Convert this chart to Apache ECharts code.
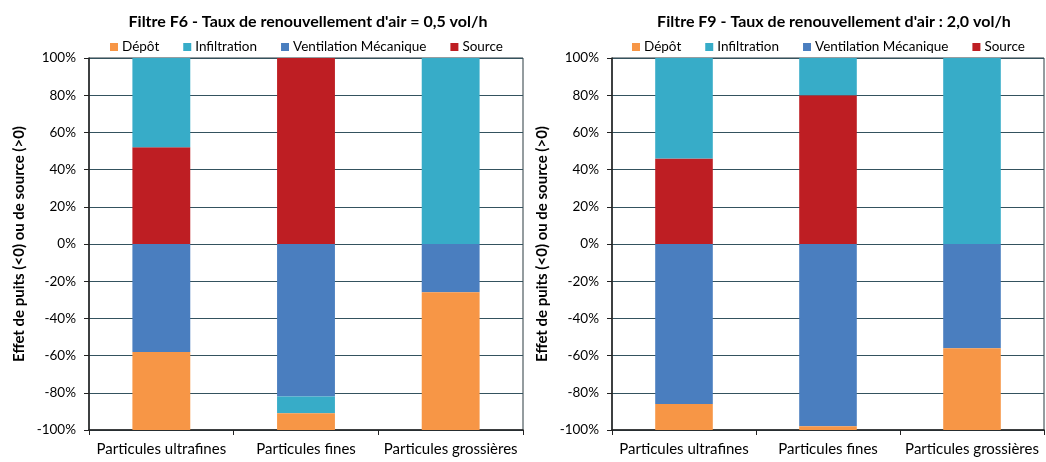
<!DOCTYPE html>
<html><head><meta charset="utf-8">
<script src="https://cdn.jsdelivr.net/npm/echarts@6/dist/echarts.min.js"></script>
<style>html,body{margin:0;padding:0;background:#fff}#c{width:1046px;height:462px}</style>
</head><body><div id="c"></div>
<script>
const categories = ['Particules ultrafines', 'Particules fines', 'Particules grossières'];
const seriesNames = ['Dépôt', 'Infiltration', 'Ventilation Mécanique', 'Source'];
const titles = ["Filtre F6 - Taux de renouvellement d'air = 0,5 vol/h", "Filtre F9 - Taux de renouvellement d'air : 2,0 vol/h"];
const yAxisName = 'Effet de puits (<0) ou de source (>0)';
// F6 (left chart), values in %
const f6Depot = [-42, -9, -74];
const f6Infiltration = [48, -9, 100];
const f6Ventilation = [-58, -82, -26];
const f6Source = [52, 100, 0];
// F9 (right chart), values in %
const f9Depot = [-14, -2, -44];
const f9Infiltration = [54, 20, 100];
const f9Ventilation = [-86, -98, -56];
const f9Source = [46, 80, 0];

const colors = {'Dépôt':'#f79646','Infiltration':'#37acc8','Ventilation Mécanique':'#4a7ebf','Source':'#be1e23'};
const font = 'Lato, "Open Sans", sans-serif';

const grids = [
  {left: 89, right: 523, top: 58, bottom: 32},
  {left: 612, right: 2, top: 58, bottom: 32}
];
const datasets = [
  {'Dépôt': f6Depot, 'Infiltration': f6Infiltration, 'Ventilation Mécanique': f6Ventilation, 'Source': f6Source},
  {'Dépôt': f9Depot, 'Infiltration': f9Infiltration, 'Ventilation Mécanique': f9Ventilation, 'Source': f9Source}
];
const stackOrder = ['Source', 'Ventilation Mécanique', 'Infiltration', 'Dépôt'];

const option = {
  animation: false,
  backgroundColor: '#fff',
  textStyle: {fontFamily: font},
  title: titles.map((t, i) => ({
    text: t, left: i === 0 ? 303 : 829, top: 9, textAlign: 'center',
    textStyle: {fontSize: 16, fontWeight: 'bold', color: '#000', fontFamily: font}
  })),
  legend: [0, 1].map(i => ({
    data: seriesNames.map(n => ({name: n + (i ? ' ' : '')})),
    formatter: n => n.trim(),
    left: i === 0 ? 110 : 632, top: 40, width: 440, padding: 0,
    itemWidth: 8, itemHeight: 8, itemGap: 24, icon: 'rect',
    textStyle: {fontSize: 13.5, color: '#000', fontFamily: font, padding: [0,0,0,-1]}
  })),
  grid: grids.map(g => ({left: g.left, right: g.right, top: g.top, bottom: g.bottom, show: true, borderColor: '#2a3a40', borderWidth: 1})),
  xAxis: [0, 1].map(i => ({
    type: 'category', gridIndex: i, data: categories,
    axisLine: {onZero: false, lineStyle: {color: '#222', width: 1.5}},
    axisTick: {show: true, length: 5, lineStyle: {color: '#222'}},
    axisLabel: {interval: 0, fontSize: 15, color: '#000', margin: 12, fontFamily: font}
  })),
  yAxis: [0, 1].map(i => ({
    type: 'value', gridIndex: i, min: -100, max: 100, interval: 20,
    name: yAxisName, nameLocation: 'middle', nameGap: 62, nameRotate: 90,
    nameTextStyle: {fontSize: 15, fontWeight: 'bold', color: '#000', fontFamily: font},
    axisLine: {show: true, lineStyle: {color: '#222', width: 1.5}},
    axisTick: {show: true, length: 5, lineStyle: {color: '#222'}},
    axisLabel: {formatter: '{value}%', fontSize: 13.5, color: '#000', margin: 13, fontFamily: font},
    splitLine: {lineStyle: {color: '#34525e', width: 1.2}}
  })),
  series: []
};
[0, 1].forEach(i => {
  stackOrder.forEach(n => {
    option.series.push({
      name: n + (i ? ' ' : ''), type: 'bar', stack: 'g' + i, xAxisIndex: i, yAxisIndex: i,
      barWidth: '40%', data: datasets[i][n],
      itemStyle: {color: colors[n]}
    });
  });
});
const chart = echarts.init(document.getElementById('c'), null, {renderer: 'canvas'});
chart.setOption(option);
</script></body></html>
